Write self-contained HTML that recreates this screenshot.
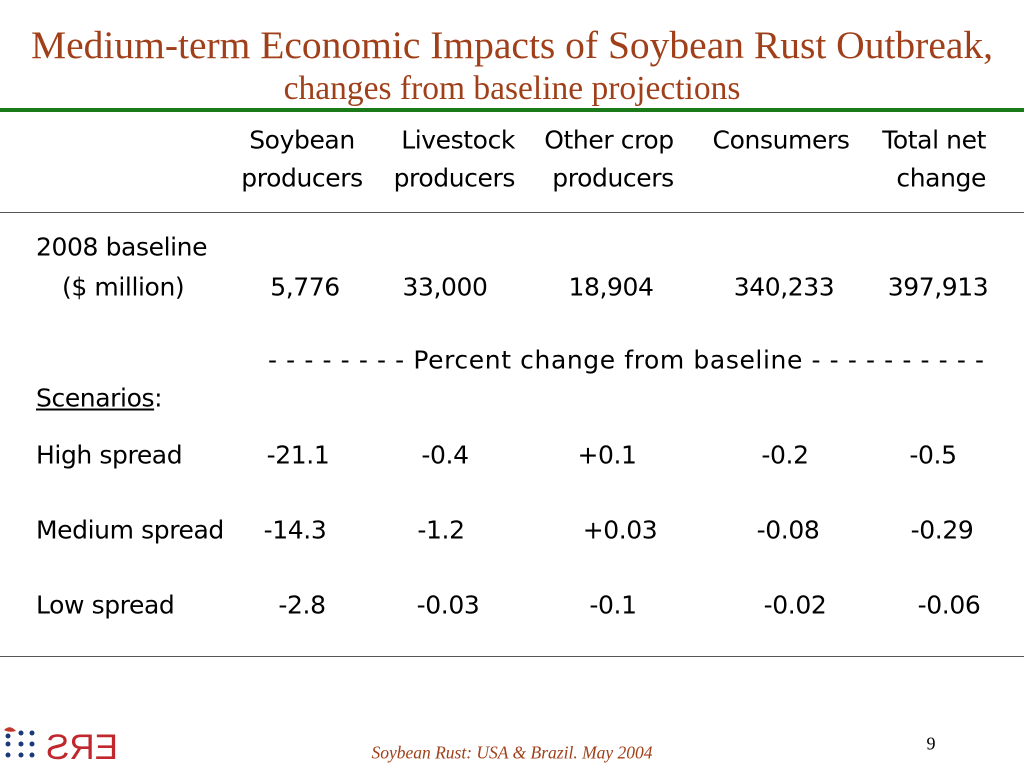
<!DOCTYPE html>
<html><head><meta charset="utf-8"><style>
body{margin:0;width:1024px;height:768px;background:#fff;position:relative;overflow:hidden;font-family:"DejaVu Sans","Liberation Sans",sans-serif;}
.t{position:absolute;white-space:nowrap;transform:translate(-50%,-50%);font-size:25px;color:#000;letter-spacing:-0.4px}
.l{transform:translate(0,-50%)}
.r{transform:translate(-100%,-50%)}
.serif{font-family:"Liberation Serif",serif;color:#a0401a;letter-spacing:0}
.hr{position:absolute;left:0;width:1024px}
</style></head><body>
<div class="t serif" style="left:512px;top:45px;font-size:39.5px">Medium-term Economic Impacts of Soybean Rust Outbreak,</div>
<div class="t serif" style="left:512px;top:89px;font-size:33.5px">changes from baseline projections</div>
<div class="hr" style="top:108px;height:4px;background:#1a7a1a"></div>
<div class="hr" style="top:212px;height:1px;background:#555"></div>
<div class="hr" style="top:656px;height:1px;background:#555"></div>

<div class="t" style="left:302px;top:140px">Soybean</div>
<div class="t" style="left:302px;top:178px">producers</div>
<div class="t r" style="left:515px;top:140px">Livestock</div>
<div class="t r" style="left:515px;top:178px">producers</div>
<div class="t" style="left:609px;top:140px">Other crop</div>
<div class="t" style="left:613px;top:178px">producers</div>
<div class="t" style="left:781px;top:140px">Consumers</div>
<div class="t r" style="left:986px;top:140px">Total net</div>
<div class="t r" style="left:986px;top:178px">change</div>

<div class="t l" style="left:36px;top:247px">2008 baseline</div>
<div class="t l" style="left:62px;top:287px">($ million)</div>
<div class="t l" style="left:268px;top:360px;letter-spacing:0.6px">- - - - - - - - Percent change from baseline - - - - - - - - - -</div>
<div class="t l" style="left:36px;top:398px"><u>Scenarios</u>:</div>
<div class="t l" style="left:36px;top:455px">High spread</div>
<div class="t l" style="left:36px;top:530px">Medium spread</div>
<div class="t l" style="left:36px;top:605px">Low spread</div>

<div id="cells"></div>

<div style="position:absolute;left:2px;top:722px;width:120px;height:40px">
<svg width="120" height="40">
<path d="M2 8 Q8 2 14 9 Q7 11 2 8Z" fill="#c0392b"/>
<g fill="#1a3a7a"><circle cx="6" cy="14" r="2.5"/><circle cx="19" cy="11" r="2.5"/><circle cx="30" cy="11" r="2.5"/>
<circle cx="6" cy="22" r="2.5"/><circle cx="19" cy="22" r="2.5"/><circle cx="30" cy="22" r="2.5"/>
<circle cx="6" cy="33" r="2.5"/><circle cx="19" cy="33" r="2.5"/><circle cx="30" cy="33" r="2.5"/></g>
<text x="40" y="37" font-family="Liberation Sans,sans-serif" font-size="35" fill="#c0282d" transform="translate(156,0) scale(-1,1)">ERS</text>
</svg></div>
<div class="t" style="left:512px;top:753px;font-family:'Liberation Serif',serif;font-style:italic;font-size:17.5px;color:#a0401a;letter-spacing:0">Soybean Rust:  USA &amp; Brazil.  May 2004</div>
<div class="t" style="left:931px;top:744px;font-family:'Liberation Serif',serif;font-size:18px;letter-spacing:0">9</div>

<script>
const rows=["baseline","high","medium","low"];
const rowY=[287,455,530,605];
const baselineVals=["5,776","33,000","18,904","340,233","397,913"];
const highVals=["-21.1","-0.4","+0.1","-0.2","-0.5"];
const mediumVals=["-14.3","-1.2","+0.03","-0.08","-0.29"];
const lowVals=["-2.8","-0.03","-0.1","-0.02","-0.06"];
const colX=[[305,445,611,784,938],[298,445,607,785,933],[295,441,620,788,942],[302,448,613,795,949]];
const all=[baselineVals,highVals,mediumVals,lowVals];
const c=document.getElementById('cells');
all.forEach((vals,i)=>vals.forEach((v,j)=>{
 const d=document.createElement('div');
 d.className='t';
 d.style.left=colX[i][j]+'px';d.style.top=rowY[i]+'px';
 d.textContent=v;
 
 
 c.appendChild(d);
}));
</script>
</body></html>
